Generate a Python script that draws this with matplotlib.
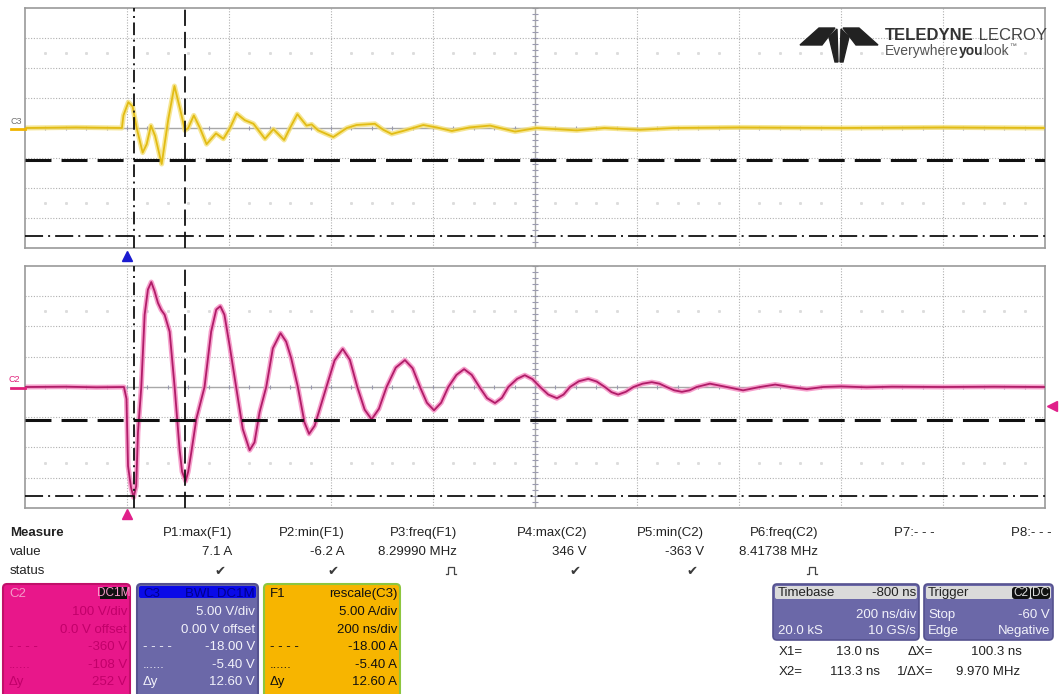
import numpy as np
import matplotlib.pyplot as plt
from matplotlib.patches import FancyBboxPatch, Rectangle, Polygon

plt.rcParams['font.family'] = ['Liberation Sans', 'DejaVu Sans']

# C2 trace (time in ns, volts)
c2_t = [-200, -120, -60, -6, -1, 2, 8, 13, 18, 21.5, 28, 34.6, 41, 47.6, 54, 60.7, 67, 73.8, 83.6,
        93.4, 103, 108, 115, 120, 126, 136, 152, 165, 175, 183, 191, 201, 214, 227, 240.5, 250,
        260, 273, 286, 301, 312, 322, 335, 348, 357, 368, 384, 391, 407, 423, 437, 451.6, 466,
        479.7, 494, 509, 527, 545, 560, 574.5, 588, 602, 616, 630, 646, 661, 676, 691, 706,
        721.6, 735, 747.7, 765, 780, 795, 810, 826, 843, 856, 868.6, 886, 904.5, 921, 937, 950,
        963, 978, 993, 1011, 1029, 1044, 1058, 1073, 1088, 1103, 1117, 1143, 1176, 1208, 1241,
        1271, 1300, 1333, 1365, 1400, 1450, 1500, 1600, 1700, 1800]
c2_v = [0, 1, -1, 0, -39, -261, -333, -365, -328, -150, 0, 239, 322, 347, 317, 278, 255, 239, 183,
        0, -205, -280, -311, -280, -217, -105, 0, 183, 256, 267, 239, 139, 0, -139, -209, -183,
        -83, 0, 128, 178, 150, 95, 0, -117, -155, -128, -39, 0, 88, 126, 90, 0, -75,
        -107, -72, 0, 64, 89, 62, 0, -52, -77, -52, 0, 40, 59, 40, 0, -37,
        -53, -36, 0, 27, 39, 26, 0, -25, -37, -25, 0, 19, 27, 18, 0, -17,
        -25, -16, 0, 11, 16, 11, 0, -11, -16, -11, 0, 11, 0, -11, 0,
        8, 0, -7, 0, 2, -1, 1, 0, 1, 0]

# C3 / F1 trace (time in ns, amps)
c3_t = [-200, -100, -10, -7, 2.6, 11, 19, 30.7, 38.6, 47, 55, 68, 81, 93, 104, 113.7, 120, 131,
        143, 156, 174.5, 189, 202, 215, 231, 248, 270.6, 287, 308, 319.6, 334, 352, 362, 375,
        404.6, 431, 450, 486, 502.6, 519, 541, 581, 607, 637, 672, 712, 761, 803, 882, 936,
        1006, 1071, 1200, 1400, 1600, 1800]
c3_a = [0, 0.1, 0, 2.1, 4.3, 3.6, 0, -4.1, -2.7, 0.4, -1.3, -6.0, 1.5, 7.0, 3.2, -0.4, 0, 2.1,
        0, -2.7, -0.9, -1.8, 0, 2.4, 1.3, 0.7, -1.8, -0.2, -2.0, 0, 2.3, 0.4, 0.6, -0.4,
        -1.5, 0, 0.5, 0.7, -0.3, -1.0, -0.5, 0.5, 0.1, -0.5, 0.1, 0.4, -0.6, 0, -0.4, 0,
        -0.3, 0, 0.1, 0, 0.1, 0]

x1_ns, x2_ns = 13.0, 113.3
f1_dash, f1_dashdot = -5.40, -18.00
c2_dash, c2_dashdot = -108, -360

meas_names = ['P1:max(F1)', 'P2:min(F1)', 'P3:freq(F1)', 'P4:max(C2)', 'P5:min(C2)',
              'P6:freq(C2)', 'P7:- - -', 'P8:- - -']
meas_values = ['7.1 A', '-6.2 A', '8.29990 MHz', '346 V', '-363 V', '8.41738 MHz', '', '']
meas_status = ['ok', 'ok', 'pulse', 'ok', 'ok', 'pulse', '', '']

c2_rows = ['100 V/div', '0.0 V offset', '-360 V', '-108 V', '252 V']
c3_rows = ['5.00 V/div', '0.00 V offset', '-18.00 V', '-5.40 V', '12.60 V']
f1_rows = ['5.00 A/div', '200 ns/div', '-18.00 A', '-5.40 A', '12.60 A']
row_keys = ['', '', '- - - -', '......', 'Δy']

W, H = 1061, 694
fig = plt.figure(figsize=(W / 100, H / 100), dpi=100)


def px_axes(l, t, r, b, **kw):
    return fig.add_axes([l / W, 1 - b / H, (r - l) / W, (b - t) / H], **kw)


def scope_grid(ax, ymax):
    dv = ymax / 4
    ax.set_xlim(-200, 1800)
    ax.set_ylim(-ymax, ymax)
    ax.set_xticks([])
    ax.set_yticks([])
    for s in ax.spines.values():
        s.set_color('#9a9a9a')
        s.set_linewidth(1.2)
    for i in range(1, 10):
        if i != 5:
            ax.axvline(-200 + 200 * i, color='#b0b0b0', lw=0.8, ls=(0, (1, 1.5)), zorder=1)
    for j in [-3, -2, -1, 1, 2, 3]:
        ax.axhline(j * dv, color='#b0b0b0', lw=0.8, ls=(0, (1, 1.5)), zorder=1)
    ax.axhline(0, color='#a8a8a8', lw=1, zorder=1)
    ax.axvline(800, color='#a8a8a8', lw=1, zorder=1)
    tx = np.arange(-200, 1801, 40)
    ax.vlines(tx, -0.08 * dv, 0.08 * dv, color='#9a9ab0', lw=0.8, zorder=1)
    ty = np.arange(-20, 21) * 0.2 * dv
    ax.hlines(ty, 800 - 5, 800 + 5, color='#9a9ab0', lw=0.8, zorder=1)
    dots = [t for t in tx if (t + 200) % 200 != 0]
    for yy in (2.5 * dv, -2.5 * dv):
        ax.plot(dots, [yy] * len(dots), ls='none', marker='s', ms=1.1, color='#dcdcdc', zorder=1)


def cursors(ax, ydash, ydd):
    ax.axhline(ydash, color='#111111', lw=2.2, ls=(0, (8.5, 3.3)), zorder=4)
    ax.axhline(ydd, color='#111111', lw=1.3, ls=(0, (10, 2.8, 1.1, 2.8)), zorder=4)
    ax.axvline(x1_ns, color='#111111', lw=1.3, ls=(0, (7, 2.5, 1.1, 2.5)), zorder=4)
    ax.axvline(x2_ns, color='#111111', lw=1.3, ls=(0, (9, 3.3)), zorder=4)


ax3 = px_axes(25, 8, 1045, 248)
scope_grid(ax3, 20)
ax3.plot(c3_t, c3_a, color='#f4e07a', lw=3.6, alpha=0.8, zorder=2)
ax3.plot(c3_t, c3_a, color='#e2bc14', lw=1.3, zorder=3)
cursors(ax3, f1_dash, f1_dashdot)

ax2 = px_axes(25, 266, 1045, 508)
scope_grid(ax2, 400)
ax2.plot(c2_t, c2_v, color='#f590c4', lw=3.6, alpha=0.85, zorder=2)
ax2.plot(c2_t, c2_v, color='#b01c68', lw=1.3, zorder=3)
cursors(ax2, c2_dash, c2_dashdot)

# overlay in pixel coordinates for the scope UI
ov = fig.add_axes([0, 0, 1, 1], zorder=5)
ov.set_xlim(0, W)
ov.set_ylim(H, 0)
ov.axis('off')
ov.patch.set_alpha(0)

ov.plot([11, 25], [129, 129], color='#f0b400', lw=2)
ov.plot([11, 25], [388, 388], color='#e0207a', lw=2)
ov.text(16, 121, 'C3', fontsize=6.5, color='#707070', ha='center', va='center')
ov.text(14, 379, 'C2', fontsize=6.5, color='#e0207a', ha='center', va='center')
ov.plot([127], [256], marker='^', ms=7, color='#1a1ad0')
ov.plot([127], [514], marker='^', ms=7, color='#e0208a')
ov.plot([1052], [406], marker='<', ms=7, color='#e0208a')

# logo
ink = '#222222'
ov.add_patch(Polygon([(800, 45), (819, 28), (835, 28), (822, 45)], color=ink))
ov.add_patch(Polygon([(878, 45), (859, 28), (843, 28), (856, 45)], color=ink))
ov.add_patch(Polygon([(829, 37), (837, 29), (838, 62), (835, 62)], color=ink))
ov.add_patch(Polygon([(849, 37), (841, 29), (840, 62), (843, 62)], color=ink))

r = fig.canvas.get_renderer()
inv = ov.transData.inverted()


def chain(x, y, parts):
    for s, fsz, fw, col in parts:
        t = ov.text(x, y, s, fontsize=fsz, fontweight=fw, color=col, va='center')
        bb = t.get_window_extent(r)
        x = inv.transform((bb.x1, bb.y0))[0]
    return x


chain(885, 35, [('TELEDYNE', 12, 'bold', '#333333'), (' LECROY', 12, 'normal', '#444444')])
xe = chain(885, 51, [('Everywhere', 10, 'normal', '#555555'), ('you', 10, 'bold', '#333333'),
                     ('look', 10, 'normal', '#555555')])
ov.text(xe, 46, '™', fontsize=5, color='#555555', va='center')

# measure table
fs = 9.5
tc = '#222222'
ov.text(10, 533, 'Measure', fontsize=fs, fontweight='bold', color=tc, va='center')
ov.text(10, 552, 'value', fontsize=fs, color=tc, va='center')
ov.text(10, 571, 'status', fontsize=fs, color=tc, va='center')
col_right = [232, 345, 457, 587, 704, 818, 935, 1052]
for i, name in enumerate(meas_names):
    xr = col_right[i]
    ov.text(xr, 533, name, fontsize=fs, color=tc, ha='right', va='center')
    ov.text(xr, 552, meas_values[i], fontsize=fs, color=tc, ha='right', va='center')
    if meas_status[i] == 'ok':
        ov.text(xr - 12, 571, '✔', fontsize=9.5, color='#3a3a3a', ha='center', va='center',
                family='DejaVu Sans')
    elif meas_status[i] == 'pulse':
        cx = xr - 6
        ov.plot([cx - 5, cx - 3, cx - 3, cx + 3, cx + 3, cx + 5],
                [574, 574, 567, 567, 574, 574], color='#444444', lw=0.9)


def chan_box(x0, x1, fill, edge, rows, txt, key_col, head_fill=None, head_txt=None,
             head_l='', head_r='', badge=None):
    ov.add_patch(FancyBboxPatch((x0, 584), x1 - x0, 120, boxstyle='round,pad=0,rounding_size=4',
                                fc=fill, ec=edge, lw=1.5))
    if head_fill is not None:
        ov.add_patch(FancyBboxPatch((x0 + 2, 586), x1 - x0 - 4, 12,
                                    boxstyle='round,pad=0,rounding_size=2', fc=head_fill, ec='none'))
    ov.text(x0 + 6, 594, head_l, fontsize=fs, color=head_txt, va='center')
    if badge is not None:
        ov.add_patch(Rectangle((x1 - 30, 587), 27, 12, fc='#111111', ec='none'))
        ov.text(x1 - 16.5, 593, badge, fontsize=8.5, color=head_txt, ha='center', va='center')
    else:
        ov.text(x1 - 3, 594, head_r, fontsize=fs, color=head_txt, ha='right', va='center')
    for k, row in enumerate(rows):
        y = 612 + 17.6 * k
        ov.text(x1 - 3, y, row, fontsize=fs, color=txt, ha='right', va='center')
        ov.text(x0 + 6, y, row_keys[k], fontsize=fs, color=key_col, va='center')


chan_box(3, 130, '#e8178a', '#c0106a', c2_rows, '#c2006a', '#c2006a',
         head_txt='#f49ac8', head_l='C2', badge='DC1M')
chan_box(137, 258, '#6b68a8', '#55528f', c3_rows, '#f2f2fa', '#f2f2fa',
         head_fill='#0a0ae8', head_txt='#00008a', head_l='C3', head_r='BWL DC1M')
chan_box(264, 400, '#f7b500', '#8dc63f', f1_rows, '#111111', '#111111',
         head_txt='#111111', head_l='F1', head_r='rescale(C3)')

# timebase / trigger boxes
for (x0, x1) in [(773, 919), (924, 1053)]:
    ov.add_patch(FancyBboxPatch((x0, 584), x1 - x0, 56, boxstyle='round,pad=0,rounding_size=4',
                                fc='#6b68a8', ec='#55528f', lw=1.2))
    ov.add_patch(FancyBboxPatch((x0 + 2, 586), x1 - x0 - 4, 13,
                                boxstyle='round,pad=0,rounding_size=2', fc='#dadada', ec='none'))
wt = '#f2f2fa'
ov.text(778, 593, 'Timebase', fontsize=fs, color='#222222', va='center')
ov.text(916, 593, '-800 ns', fontsize=fs, color='#222222', ha='right', va='center')
ov.text(916, 615, '200 ns/div', fontsize=fs, color=wt, ha='right', va='center')
ov.text(778, 631, '20.0 kS', fontsize=fs, color=wt, va='center')
ov.text(916, 631, '10 GS/s', fontsize=fs, color=wt, ha='right', va='center')
ov.text(928, 593, 'Trigger', fontsize=fs, color='#222222', va='center')
ov.add_patch(FancyBboxPatch((1012, 587), 18, 12, boxstyle='round,pad=0,rounding_size=3',
                            fc='#111111', ec='none'))
ov.add_patch(FancyBboxPatch((1031, 587), 19, 12, boxstyle='round,pad=0,rounding_size=3',
                            fc='#111111', ec='none'))
ov.text(1021, 593, 'C2', fontsize=8.5, color='#dddddd', ha='center', va='center')
ov.text(1040.5, 593, 'DC', fontsize=8.5, color='#dddddd', ha='center', va='center')
ov.text(928, 615, 'Stop', fontsize=fs, color=wt, va='center')
ov.text(1050, 615, '-60 V', fontsize=fs, color=wt, ha='right', va='center')
ov.text(928, 631, 'Edge', fontsize=fs, color=wt, va='center')
ov.text(1050, 631, 'Negative', fontsize=fs, color=wt, ha='right', va='center')

# cursor readout
ov.text(779, 652, 'X1=', fontsize=fs, color=tc, va='center')
ov.text(880, 652, '%.1f ns' % x1_ns, fontsize=fs, color=tc, ha='right', va='center')
ov.text(933, 652, 'ΔX=', fontsize=fs, color=tc, ha='right', va='center')
ov.text(1022, 652, '%.1f ns' % (x2_ns - x1_ns), fontsize=fs, color=tc, ha='right', va='center')
ov.text(779, 672, 'X2=', fontsize=fs, color=tc, va='center')
ov.text(880, 672, '%.1f ns' % x2_ns, fontsize=fs, color=tc, ha='right', va='center')
ov.text(933, 672, '1/ΔX=', fontsize=fs, color=tc, ha='right', va='center')
ov.text(1020, 672, '9.970 MHz', fontsize=fs, color=tc, ha='right', va='center')

fig.savefig('out.png', dpi=100)
